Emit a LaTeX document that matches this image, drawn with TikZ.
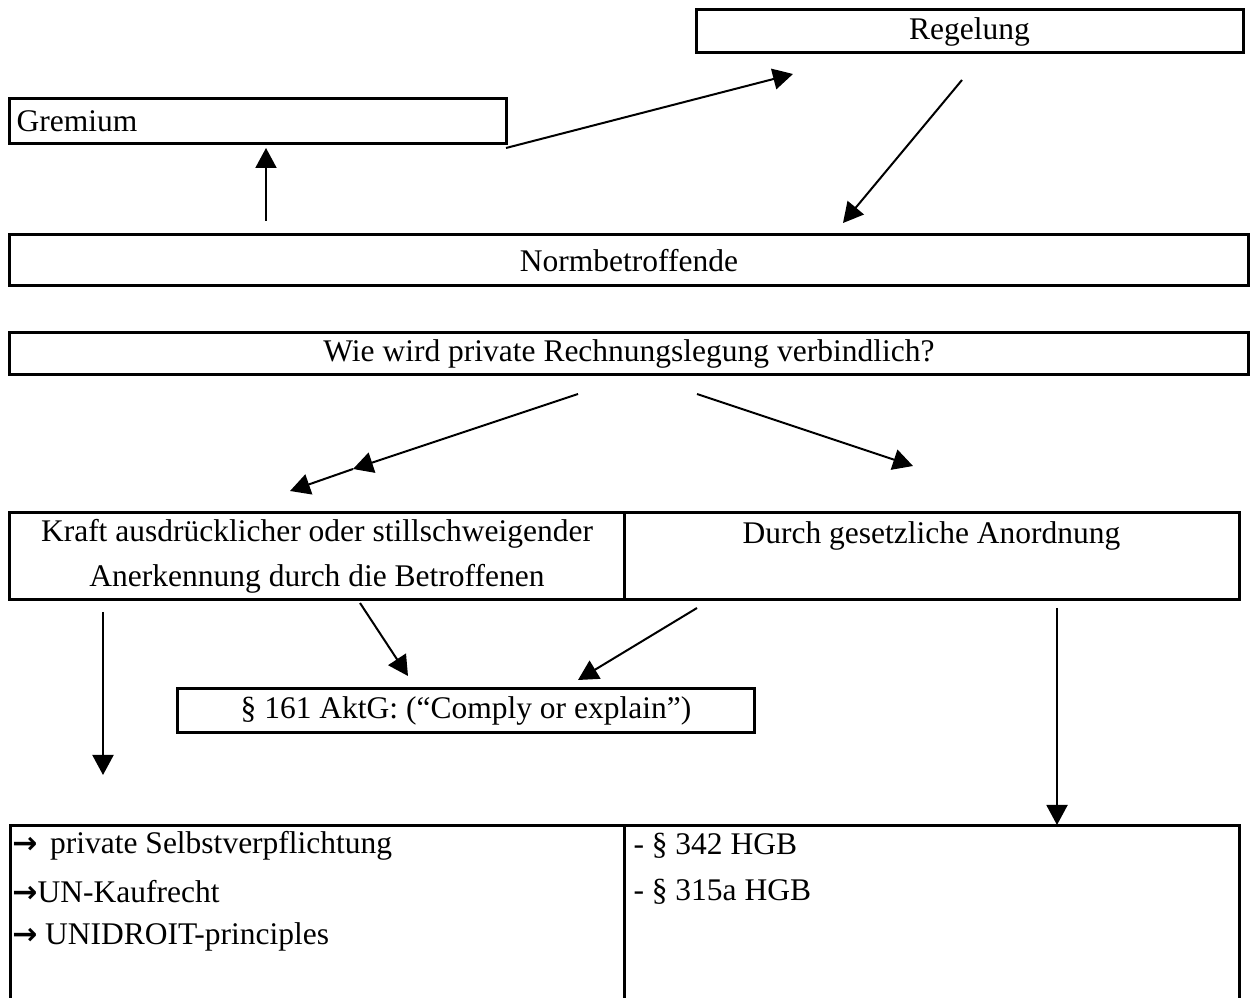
\documentclass[tikz,border=0pt]{standalone}
\usepackage{fontspec}
\setmainfont{Liberation Serif}
\newfontfamily\pfeilfont{DejaVu Sans}
\newcommand{\rpfeil}{{\pfeilfont\bfseries\fontsize{12}{18}\selectfont →}}
\usetikzlibrary{arrows.meta}

\begin{document}
\begin{tikzpicture}[x=0.4pt,y=-0.4pt,
    every node/.style={font=\fontsize{12.6}{18}\selectfont},
    box/.style={draw,line width=1.2pt,inner sep=0pt},
    pfeil/.style={line width=0.8pt,-{Triangle[length=8pt,width=8.4pt]}}]
    \useasboundingbox (0,0) rectangle (1254,998);
    \node[box,minimum width=218.8pt,minimum height=17.2pt] (regel) at (969.5,31.5) {Regelung};
    \node[box,minimum width=198.4pt,minimum height=18pt,text width=193pt,align=left,inner xsep=2.7pt] (grem) at (258,121.5) {Gremium};
    \node[box,minimum width=495.2pt,minimum height=20.4pt] (norm) at (629,260.5) {Normbetroffende};
    \node[box,minimum width=495.2pt,minimum height=16.8pt] (wie) at (629,354) {Wie wird private Rechnungslegung verbindlich?};
    \node[box,minimum width=245.6pt,minimum height=34.8pt,align=center] (kraft) at (317,556.5) {Kraft ausdrücklicher oder stillschweigender\\Anerkennung durch die Betroffenen};
    \node[box,minimum width=246pt,minimum height=34.8pt,align=center,text depth=19pt] (durch) at (931.5,556.5) {Durch gesetzliche Anordnung};
    \node[box,minimum width=230.4pt,minimum height=17.6pt] (aktg) at (466,711) {§ 161 AktG: (“Comply or explain”)};
    \draw[line width=1.2pt] (10,1010) |- (1239,825) -- (1239,1010);
    \draw[line width=1.2pt] (624,825) -- (624,1010);
    \node[anchor=west,inner sep=0pt] (selbst) at (12,846) {\rpfeil\hspace{5pt}private Selbstverpflichtung};
    \node[anchor=west,inner sep=0pt] (kauf) at (12,892) {\rpfeil UN-Kaufrecht};
    \node[anchor=west,inner sep=0pt] (unidroit) at (12,937) {\rpfeil\hspace{3pt}UNIDROIT-principles};
    \node[anchor=west,inner sep=0pt] (hgbA) at (633,846) {- § 342 HGB};
    \node[anchor=west,inner sep=0pt] (hgbB) at (633,892) {- § 315a HGB};
    \coordinate (gremA) at (506,148);
    \coordinate (regelE) at (793,74);
    \coordinate (regelA) at (962,80);
    \coordinate (normE) at (843,223);
    \coordinate (normA) at (266,221);
    \coordinate (gremE) at (266,148);
    \coordinate (wieL) at (578,394);
    \coordinate (kraftM) at (353,469);
    \coordinate (kraftE) at (290,491);
    \coordinate (wieR) at (697,394);
    \coordinate (durchE) at (913,466);
    \coordinate (kraftA) at (360,603);
    \coordinate (aktgL) at (408,676);
    \coordinate (durchA) at (697,608);
    \coordinate (aktgR) at (578,680);
    \coordinate (kraftB) at (103,612);
    \coordinate (privE) at (103,775);
    \coordinate (durchB) at (1057,608);
    \coordinate (gesE) at (1057,825);
    \draw[pfeil] (gremA) -- (regelE);
    \draw[pfeil] (regelA) -- (normE);
    \draw[pfeil] (normA) -- (gremE);
    \draw[pfeil] (wieL) -- (kraftM);
    \draw[pfeil] (kraftM) -- (kraftE);
    \draw[pfeil] (wieR) -- (durchE);
    \draw[pfeil] (kraftA) -- (aktgL);
    \draw[pfeil] (durchA) -- (aktgR);
    \draw[pfeil] (kraftB) -- (privE);
    \draw[pfeil] (durchB) -- (gesE);
\end{tikzpicture}
\end{document}
